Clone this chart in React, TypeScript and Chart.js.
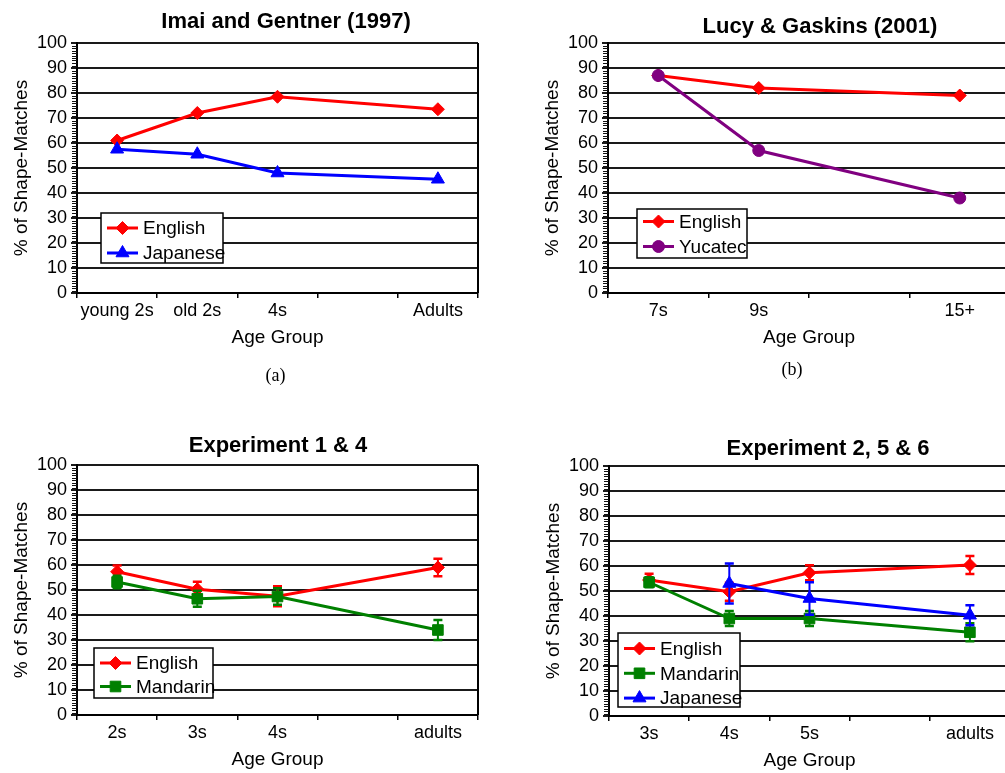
import React, { useEffect, useRef } from 'react';
import { Chart, registerables } from 'chart.js';
import { drawPoint } from 'chart.js/helpers';

Chart.register(...registerables);

// ---------- Data ----------
// Panel (a) Imai and Gentner (1997)
const catsA = ['young 2s', 'old 2s', '4s', '', 'Adults'];
const englishA = [61, 72, 78.5, null, 73.5];
const japaneseA = [57.5, 55.5, 48, null, 45.5];

// Panel (b) Lucy & Gaskins (2001)
const catsB = ['7s', '9s', '', '15+'];
const englishB = [87, 82, null, 79];
const yucatecB = [87, 57, null, 38];

// Panel (c) Experiment 1 & 4
const catsC = ['2s', '3s', '4s', '', 'adults'];
const englishC = [57.3, 50.3, 47.5, null, 59];
const englishCErr = [2.5, 3, 4, null, 3.5];
const mandarinC = [53.2, 46.5, 47.4, null, 34];
const mandarinCErr = [2.5, 3.2, 3.3, null, 4];

// Panel (d) Experiment 2, 5 & 6
const catsD = ['3s', '4s', '5s', '', 'adults'];
const englishD = [54.4, 49.7, 57.3, null, 60.4];
const englishDErr = [2.5, 3.6, 3, null, 3.6];
const mandarinD = [53.5, 39, 39, null, 33.5];
const mandarinDErr = [2, 3, 3, null, 3.6];
const japaneseD = [null, 53, 47, null, 40.3];
const japaneseDErr = [null, 8, 6.5, null, 4];

const yTickStep = 10;
const yMin = 0;
const yMax = 100;

// ---------- Styles ----------
const FONT = "'Liberation Sans', Arial, Helvetica, sans-serif";
const CW = 1020;
const CH = 773;
const Y_W = 67;
const X_H = 56;

const seriesStyle: Record<string, any> = {
  English: { color: '#FF0000', pointStyle: 'rectRot', radius: 6.5 },
  Japanese: { color: '#0000FF', pointStyle: 'triangle', radius: 7.5 },
  Yucatec: { color: '#800080', pointStyle: 'circle', radius: 6 },
  Mandarin: { color: '#008000', pointStyle: 'rect', radius: 7.5 },
};

type Series = { name: string; values: (number | null)[]; errors?: (number | null)[] };
type Panel = {
  key: string;
  labels: string[];
  series: Series[];
  area: { L: number; R: number; T: number; B: number };
  legend: { left: number; top: number; width: number; height: number; first: number; gap: number; names: string[] };
};

const panels: Panel[] = [
  {
    key: 'a',
    labels: catsA,
    series: [
      { name: 'English', values: englishA },
      { name: 'Japanese', values: japaneseA },
    ],
    area: { L: 77, R: 478, T: 43, B: 293 },
    legend: { left: 101, top: 213, width: 122, height: 50, first: 15, gap: 25, names: ['English', 'Japanese'] },
  },
  {
    key: 'b',
    labels: catsB,
    series: [
      { name: 'English', values: englishB },
      { name: 'Yucatec', values: yucatecB },
    ],
    area: { L: 608, R: 1010, T: 43, B: 293 },
    legend: { left: 637, top: 209, width: 110, height: 49, first: 12.5, gap: 25, names: ['English', 'Yucatec'] },
  },
  {
    key: 'c',
    labels: catsC,
    series: [
      { name: 'English', values: englishC, errors: englishCErr },
      { name: 'Mandarin', values: mandarinC, errors: mandarinCErr },
    ],
    area: { L: 77, R: 478, T: 465, B: 715 },
    legend: { left: 94, top: 648, width: 119, height: 50, first: 15, gap: 23.5, names: ['English', 'Mandarin'] },
  },
  {
    key: 'd',
    labels: catsD,
    series: [
      { name: 'English', values: englishD, errors: englishDErr },
      { name: 'Mandarin', values: mandarinD, errors: mandarinDErr },
      { name: 'Japanese', values: japaneseD, errors: japaneseDErr },
    ],
    area: { L: 609, R: 1010, T: 466, B: 716 },
    legend: { left: 618, top: 633, width: 122, height: 74, first: 15.5, gap: 24.8, names: ['English', 'Mandarin', 'Japanese'] },
  },
];

const titles = [
  { text: 'Imai and Gentner (1997)', x: 286, y: 20.5 },
  { text: 'Lucy & Gaskins (2001)', x: 820, y: 25.5 },
  { text: 'Experiment 1 & 4', x: 278, y: 445 },
  { text: 'Experiment 2, 5 & 6', x: 828, y: 448 },
];
const captions = [
  { text: '(a)', x: 275.5, y: 375 },
  { text: '(b)', x: 792, y: 369 },
];

// ---------- Plugins ----------
const errorBarPlugin = {
  id: 'errorBars',
  afterDatasetDraw(chart: any, args: any) {
    const ds = chart.data.datasets[args.index];
    const errs = ds.errors;
    if (!errs) return;
    const yScale = chart.scales.y;
    const ctx = chart.ctx;
    ctx.save();
    ctx.strokeStyle = ds.borderColor;
    args.meta.data.forEach((pt: any, i: number) => {
      const v = ds.data[i];
      const e = errs[i];
      if (v == null || e == null) return;
      const x = pt.x;
      const yt = yScale.getPixelForValue(v + e);
      const yb = yScale.getPixelForValue(v - e);
      ctx.lineWidth = 2;
      ctx.beginPath();
      ctx.moveTo(x, yt);
      ctx.lineTo(x, yb);
      ctx.stroke();
      ctx.lineWidth = 2.5;
      ctx.beginPath();
      ctx.moveTo(x - 4.5, yt);
      ctx.lineTo(x + 4.5, yt);
      ctx.moveTo(x - 4.5, yb);
      ctx.lineTo(x + 4.5, yb);
      ctx.stroke();
    });
    ctx.restore();
  },
};

const frameAndMinorPlugin = {
  id: 'frameMinor',
  afterDraw(chart: any) {
    const { ctx, chartArea } = chart;
    const yScale = chart.scales.y;
    ctx.save();
    // right frame
    ctx.strokeStyle = '#000';
    ctx.lineWidth = 2;
    ctx.beginPath();
    ctx.moveTo(chartArea.right, chartArea.top);
    ctx.lineTo(chartArea.right, chartArea.bottom);
    ctx.stroke();
    // minor ticks on y axis
    ctx.strokeStyle = '#111';
    ctx.lineWidth = 1;
    ctx.beginPath();
    for (let v = yMin; v <= yMax; v += 1) {
      if (v % yTickStep === 0) continue;
      const y = Math.round(yScale.getPixelForValue(v)) + 0.5;
      ctx.moveTo(chartArea.left - 5, y);
      ctx.lineTo(chartArea.left, y);
    }
    ctx.stroke();
    ctx.restore();
  },
};

const boxLegendPlugin = {
  id: 'boxLegend',
  afterDraw(chart: any, _args: any, opts: any) {
    if (!opts || !opts.names) return;
    const ctx = chart.ctx;
    ctx.save();
    ctx.fillStyle = '#FFFFFF';
    ctx.fillRect(opts.left, opts.top, opts.width, opts.height);
    ctx.strokeStyle = '#000';
    ctx.lineWidth = 1.5;
    ctx.strokeRect(opts.left, opts.top, opts.width, opts.height);
    opts.names.forEach((name: string, i: number) => {
      const st = seriesStyle[name];
      const y = opts.top + opts.first + i * opts.gap;
      ctx.strokeStyle = st.color;
      ctx.fillStyle = st.color;
      ctx.lineWidth = 3;
      ctx.beginPath();
      ctx.moveTo(opts.left + 6, y);
      ctx.lineTo(opts.left + 37, y);
      ctx.stroke();
      ctx.lineWidth = 1;
      drawPoint(ctx, { pointStyle: st.pointStyle, radius: st.radius, rotation: 0, borderWidth: 1 } as any, opts.left + 21.5, y);
      ctx.fillStyle = '#000';
      ctx.font = `19px ${FONT}`;
      ctx.textBaseline = 'middle';
      ctx.textAlign = 'left';
      ctx.fillText(name, opts.left + 42, y + 1);
    });
    ctx.restore();
  },
};

function buildConfig(p: Panel): any {
  const n = p.series.length;
  const tickFont = { family: FONT, size: 18 };
  const titleFont = { family: FONT, size: 19 };
  return {
    type: 'line',
    data: {
      labels: p.labels,
      datasets: p.series.map((s, i) => {
        const st = seriesStyle[s.name];
        return {
          label: s.name,
          data: s.values,
          errors: s.errors,
          borderColor: st.color,
          backgroundColor: st.color,
          pointBackgroundColor: st.color,
          pointBorderColor: st.color,
          pointStyle: st.pointStyle,
          pointRadius: st.radius,
          pointBorderWidth: 1,
          borderWidth: 3,
          spanGaps: true,
          tension: 0,
          order: n - i,
        };
      }),
    },
    options: {
      animation: false,
      responsive: false,
      maintainAspectRatio: false,
      events: [],
      layout: {
        padding: {
          left: p.area.L - Y_W,
          top: p.area.T,
          right: CW - p.area.R,
          bottom: CH - p.area.B - X_H,
        },
      },
      plugins: {
        legend: { display: false },
        title: { display: false },
        tooltip: { enabled: false },
        boxLegend: p.legend,
      },
      scales: {
        x: {
          type: 'category',
          offset: true,
          grid: {
            offset: true,
            drawOnChartArea: false,
            drawTicks: true,
            tickLength: 5,
            color: '#000',
            lineWidth: 1.5,
          },
          border: { display: true, color: '#000', width: 2 },
          ticks: { padding: 2, font: tickFont, color: '#000', autoSkip: false, maxRotation: 0 },
          title: { display: true, text: 'Age Group', font: titleFont, color: '#000', padding: 0 },
          afterFit: (s: any) => {
            s.height = X_H;
          },
        },
        y: {
          min: yMin,
          max: yMax,
          ticks: { stepSize: yTickStep, padding: 4, font: tickFont, color: '#000' },
          grid: { color: '#1a1a1a', lineWidth: 2, tickLength: 6 },
          border: { display: true, color: '#000', width: 2 },
          title: { display: true, text: '% of Shape-Matches', font: titleFont, color: '#000', padding: 0 },
          afterFit: (s: any) => {
            s.width = Y_W;
          },
        },
      },
    },
    plugins: [errorBarPlugin, frameAndMinorPlugin, boxLegendPlugin],
  };
}

function PanelChart({ panel }: { panel: Panel }) {
  const ref = useRef<HTMLCanvasElement | null>(null);
  useEffect(() => {
    if (!ref.current) return;
    const chart = new Chart(ref.current, buildConfig(panel));
    return () => chart.destroy();
  }, [panel]);
  return (
    <canvas
      ref={ref}
      width={CW}
      height={CH}
      style={{ position: 'absolute', left: 0, top: 0, width: CW, height: CH }}
    />
  );
}

export default function App() {
  return (
    <div
      style={{
        position: 'absolute',
        left: 0,
        top: 0,
        width: 1005,
        height: 773,
        overflow: 'hidden',
        background: '#fff',
      }}
    >
      {panels.map((p) => (
        <PanelChart key={p.key} panel={p} />
      ))}
      {titles.map((t) => (
        <div
          key={t.text}
          style={{
            position: 'absolute',
            left: t.x,
            top: t.y,
            transform: 'translate(-50%, -50%)',
            whiteSpace: 'nowrap',
            fontFamily: FONT,
            fontWeight: 'bold',
            fontSize: 22,
            lineHeight: 1,
            color: '#000',
          }}
        >
          {t.text}
        </div>
      ))}
      {captions.map((t) => (
        <div
          key={t.text}
          style={{
            position: 'absolute',
            left: t.x,
            top: t.y,
            transform: 'translate(-50%, -50%)',
            whiteSpace: 'nowrap',
            fontFamily: "'Liberation Serif', 'Times New Roman', serif",
            fontSize: 18,
            lineHeight: 1,
            color: '#000',
          }}
        >
          {t.text}
        </div>
      ))}
    </div>
  );
}
